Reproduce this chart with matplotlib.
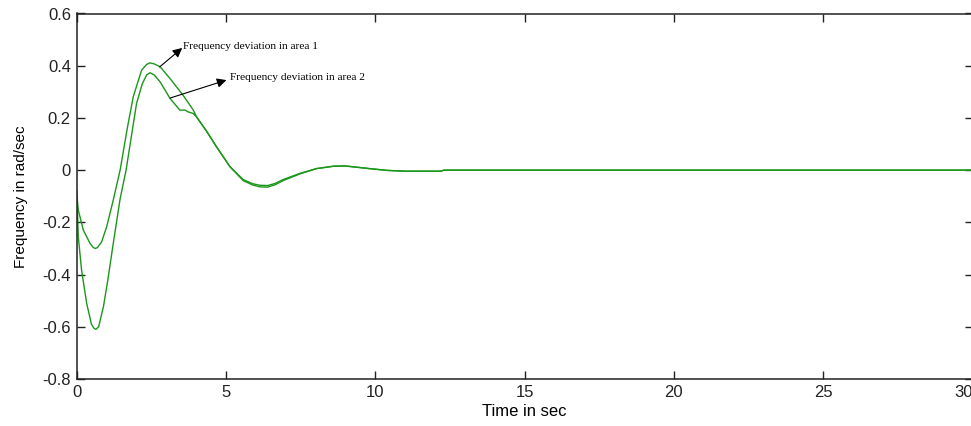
import matplotlib
matplotlib.use("Agg")
import matplotlib.pyplot as plt

# values
# area 1: shallow dip, higher first peak
t_area1 = [0, 0.06, 0.23, 0.45, 0.55, 0.62, 0.7, 0.84, 1.01, 1.23, 1.46, 1.7, 1.9, 2.18, 2.35,
           2.46, 2.6, 2.8, 3.13, 3.58, 3.91]
f_area1 = [-0.077, -0.153, -0.23, -0.28, -0.295, -0.30, -0.297, -0.275, -0.217, -0.115, 0.0, 0.16,
           0.281, 0.383, 0.405, 0.411, 0.407, 0.396, 0.351, 0.285, 0.23]

# area 2: deep dip, lower first peak, small kink on the way down
t_area2 = [0, 0.03, 0.06, 0.17, 0.34, 0.5, 0.58, 0.65, 0.74, 0.9, 1.05, 1.23, 1.46, 1.66, 2.01,
           2.2, 2.35, 2.46, 2.6, 2.8, 3.13, 3.46, 3.63, 3.74, 3.91]
f_area2 = [-0.08, -0.15, -0.255, -0.383, -0.51, -0.59, -0.605, -0.61, -0.6, -0.524, -0.42, -0.281,
           -0.11, 0.0, 0.255, 0.33, 0.365, 0.373, 0.365, 0.338, 0.275, 0.23, 0.23, 0.223, 0.217]

# after t ~ 4 s both responses almost coincide
t_tail = [4.02, 4.35, 4.69, 5.14, 5.58, 5.9, 6.14, 6.4, 6.65, 6.92, 7.49, 8.04, 8.6, 9.0, 9.8,
          10.4, 11.0, 12.2, 12.3, 30]
f_tail1 = [0.204, 0.15, 0.089, 0.013, -0.04, -0.057, -0.064, -0.065, -0.056, -0.04, -0.014, 0.006,
           0.015, 0.016, 0.006, -0.001, -0.004, -0.004, 0.0, 0.0]
f_tail2 = [0.204, 0.15, 0.089, 0.013, -0.036, -0.052, -0.058, -0.059, -0.051, -0.036, -0.012,
           0.006, 0.015, 0.016, 0.006, -0.001, -0.004, -0.004, 0.0, 0.0]

x_ticks = [0, 5, 10, 15, 20, 25, 30]
y_ticks = [-0.8, -0.6, -0.4, -0.2, 0, 0.2, 0.4, 0.6]
y_labels = ['-0.8', '-0.6', '-0.4', '-0.2', '0', '0.2', '0.4', '0.6']

plt.rcParams['font.family'] = ['Liberation Sans', 'DejaVu Sans']

fig = plt.figure(figsize=(9.71, 4.26), dpi=100)
ax = fig.add_axes([76.5 / 971, 47 / 426, 896 / 971, 365.5 / 426])

green = '#1a961a'
ax.plot(t_area1 + t_tail, f_area1 + f_tail1, color=green, lw=1.0)
ax.plot(t_area2 + t_tail, f_area2 + f_tail2, color=green, lw=1.0)

ax.set_xlim(0, 30)
ax.set_ylim(-0.8, 0.6)
ax.set_xticks(x_ticks)
ax.set_yticks(y_ticks)
ax.set_yticklabels(y_labels)
ax.tick_params(direction='in', top=True, right=True, length=6, width=1.0,
               labelsize=12, colors='#222222', pad=4)
# last x label sits at the picture's edge, keep it inside like the original
ax.get_xticklabels()[-1].set_horizontalalignment('right')
for s in ax.spines.values():
    s.set_linewidth(1.1)
    s.set_color('#222222')

ax.set_xlabel('Time in sec', fontsize=12, labelpad=3)
ax.set_ylabel('Frequency in rad/sec', fontsize=11, labelpad=10)

# annotations with arrows, serif like the original
serif = ['Liberation Serif', 'DejaVu Serif']
arrow = dict(arrowstyle='-|>', color='black', lw=0.8, mutation_scale=14, shrinkA=0, shrinkB=0)
ax.annotate('', xy=(3.54, 0.468), xytext=(2.78, 0.395), arrowprops=arrow)
ax.text(3.57, 0.472, 'Frequency deviation in area 1', family=serif, fontsize=8.2,
        ha='left', va='center')
ax.annotate('', xy=(5.02, 0.345), xytext=(3.13, 0.276), arrowprops=arrow)
ax.text(5.14, 0.354, 'Frequency deviation in area 2', family=serif, fontsize=8.2,
        ha='left', va='center')

fig.savefig('out.png', dpi=100)
